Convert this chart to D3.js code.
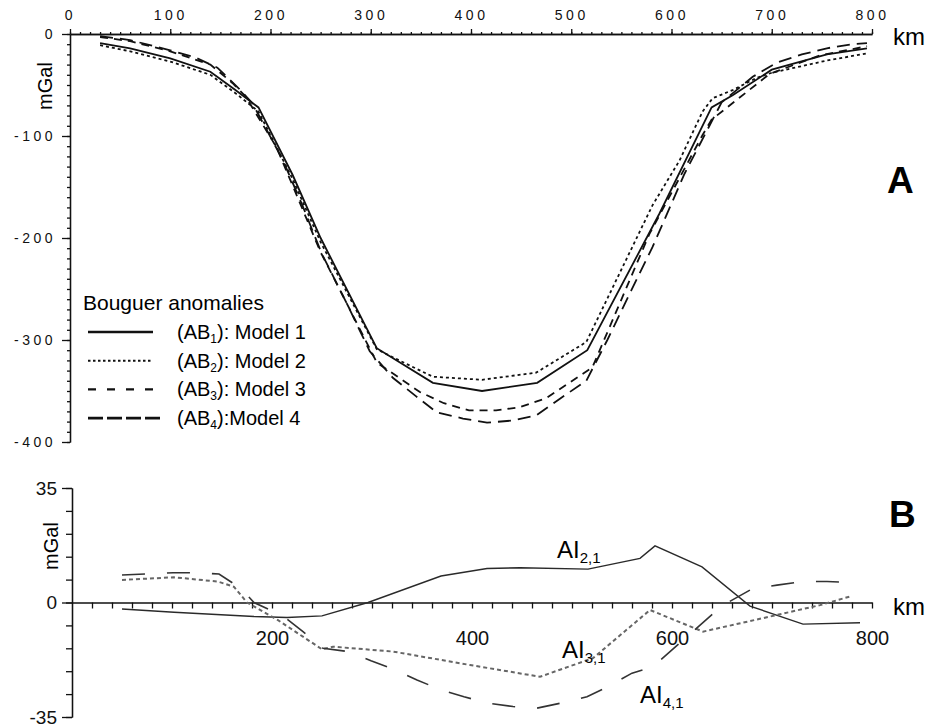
<!DOCTYPE html>
<html>
<head>
<meta charset="utf-8">
<style>
  body { margin: 0; background: #fff; }
  svg { display: block; font-family: "Liberation Sans", Arial, sans-serif; }
</style>
</head>
<body>
<script src="https://d3js.org/d3.v7.min.js"></script>
<script>
// tick labels
const kmTicksA = [0, 100, 200, 300, 400, 500, 600, 700, 800];
const mgalTicksA = [0, -100, -200, -300, -400];
const kmTicksB = [200, 400, 600, 800];
const mgalTicksB = [35, 0, -35];

// panel A: Bouguer anomalies [km, mGal]
const ab1 = [[30,-9],[60,-14],[100,-24],[140,-37],[165,-55],[188,-72],[222,-138],[250,-200],[306,-308],[362,-342],[411,-350],[466,-342],[516,-310],[588,-176],[640,-72],[661,-60],[700,-35],[755,-20],[795,-14]];
const ab2 = [[30,-11],[60,-17],[100,-27],[140,-40],[165,-58],[188,-76],[222,-142],[250,-204],[306,-309],[318,-315],[362,-336],[411,-339],[465,-332],[515,-302],[581,-168],[608,-124],[631,-76],[641,-63],[661,-55],[685,-43],[700,-38],[755,-26],[795,-19]];
const ab3 = [[30,-3],[60,-7],[100,-17],[140,-30],[162,-48],[175,-61],[206,-111],[250,-214],[261,-235],[306,-322],[349,-351],[373,-362],[398,-369],[425,-369],[448,-366],[475,-357],[495,-344],[521,-327],[578,-196],[631,-99],[640,-84],[698,-39],[748,-21],[795,-12]];
const ab4 = [[30,-2],[60,-6],[100,-16],[125,-23],[147,-33],[169,-54],[182,-68],[212,-123],[231,-166],[251,-215],[276,-264],[299,-311],[322,-337],[345,-355],[366,-371],[392,-377],[416,-381],[441,-379],[465,-374],[488,-358],[515,-340],[536,-300],[560,-251],[581,-209],[613,-137],[650,-67],[681,-42],[705,-28],[730,-20],[755,-14],[780,-10],[795,-9]];

// panel B: differences [km, mGal]
const ai21 = [[50,-2],[102,-3],[182,-4.3],[215,-4.6],[250,-4.1],[296,0],[369,8.1],[415,10.4],[448,10.6],[516,10.2],[568,13.5],[583,17.3],[630,10.9],[678,-1.1],[731,-6.6],[788,-6.2]];
const ai31 = [[50,6.9],[102,7.7],[146,6.4],[162,4.8],[175,0],[206,-5.4],[250,-14.3],[261,-13.5],[321,-15],[398,-19.1],[468,-22.7],[521,-17],[578,-2.3],[631,-8.9],[698,-4.3],[748,-0.8],[780,2]];
const ai41 = [[50,8.4],[101,9.1],[124,9.1],[147,8.7],[169,4.3],[182,0],[212,-4.3],[231,-8.9],[251,-14],[276,-15],[299,-17.8],[322,-20.4],[345,-23.7],[369,-26.7],[392,-28.8],[416,-30.8],[441,-31.8],[465,-32.3],[488,-30.8],[515,-28.8],[536,-25.7],[560,-21.6],[581,-19.6],[613,-11],[650,-1],[681,4.3],[705,5.3],[730,6.4],[755,6.4],[781,6.1]];

const legendRows = [
  { sub: '1', text: ': Model 1' },
  { sub: '2', text: ': Model 2' },
  { sub: '3', text: ': Model 3' },
  { sub: '4', text: ':Model 4' }
];

const W = 930, H = 728;
const svg = d3.select('body').append('svg')
  .attr('width', W).attr('height', H);

const x = d3.scaleLinear().domain([0, 800]).range([70, 872]);
const xB = d3.scaleLinear().domain([0, 800]).range([72, 872]);
const yA = d3.scaleLinear().domain([0, -400]).range([34, 442]);
const yB = d3.scaleLinear().domain([35, -35]).range([488, 717]);

const font = '"Liberation Sans", Arial, sans-serif';
const styleAxis = (g, size, spacing) => {
  g.selectAll('path, line').attr('stroke', '#111').attr('stroke-width', 1.3);
  g.selectAll('text')
    .style('font-family', font)
    .style('font-size', size + 'px')
    .style('letter-spacing', spacing + 'px')
    .attr('fill', '#111');
};

// ---- panel A axes
const gTop = svg.append('g').attr('transform', 'translate(0,34)');
gTop.call(d3.axisTop(x).tickValues(d3.range(0, 801, 10)).tickSize(2).tickSizeOuter(0).tickFormat(''));
gTop.append('g')
  .call(d3.axisTop(x).tickValues(kmTicksA).tickSize(5).tickSizeOuter(0).tickPadding(9).tickFormat(d => String(d)));
styleAxis(gTop, 14, 3.5);

const gLeft = svg.append('g').attr('transform', 'translate(70,0)');
gLeft.call(d3.axisLeft(yA).tickValues(d3.range(0, -401, -10)).tickSize(3).tickSizeOuter(0).tickFormat(''));
gLeft.append('g')
  .call(d3.axisLeft(yA).tickValues(mgalTicksA).tickSize(8).tickSizeOuter(0).tickPadding(6).tickFormat(d => String(d)));
styleAxis(gLeft, 14, 3.5);

svg.append('text')
  .attr('transform', 'translate(52,86) rotate(-90)')
  .attr('text-anchor', 'middle')
  .style('font-size', '20px')
  .text('mGal');

svg.append('text').attr('x', 893).attr('y', 45).style('font-size', '24px').text('km');
svg.append('text').attr('x', 887).attr('y', 193)
  .style('font-size', '37px').style('font-weight', 'bold').text('A');

// ---- panel A curves
const lineA = d3.line().x(d => x(d[0])).y(d => yA(d[1]));
const seriesA = [
  { data: ab1, dash: null, w: 1.8 },
  { data: ab2, dash: '3,3', w: 1.8 },
  { data: ab3, dash: '8,6', w: 1.8 },
  { data: ab4, dash: '13,7', w: 1.8 }
];
svg.append('g').selectAll('path')
  .data(seriesA)
  .join('path')
  .attr('d', d => lineA(d.data))
  .attr('fill', 'none')
  .attr('stroke', '#111')
  .attr('stroke-width', d => d.w)
  .attr('stroke-dasharray', d => d.dash);

// ---- legend
const legendDash = [
  { dash: null, w: 2.6, x2: 153 },
  { dash: '2.5,2.5', w: 2, x2: 153 },
  { dash: '8,11', w: 2.2, x2: 153 },
  { dash: '15,4', w: 2.8, x2: 160 }
];
const lg = svg.append('g');
lg.append('text').attr('x', 83).attr('y', 310).style('font-size', '21px').text('Bouguer anomalies');
legendRows.forEach((r, i) => {
  const yy = 332 + i * 28.7;
  lg.append('line')
    .attr('x1', 88).attr('x2', legendDash[i].x2)
    .attr('y1', yy).attr('y2', yy)
    .attr('stroke', '#111')
    .attr('stroke-width', legendDash[i].w)
    .attr('stroke-dasharray', legendDash[i].dash);
  const t = lg.append('text').attr('x', 177).attr('y', yy + 7).style('font-size', '20px');
  t.append('tspan').text('(AB');
  t.append('tspan').attr('dy', 4).style('font-size', '12px').text(r.sub);
  t.append('tspan').attr('dy', -4).text(')' + r.text);
});

// ---- panel B axes
const gB = svg.append('g').attr('transform', `translate(0,${yB(0)})`);
gB.call(d3.axisBottom(xB).tickValues(d3.range(20, 801, 20)).tickSize(6).tickSizeOuter(0).tickFormat(''));
gB.append('g')
  .call(d3.axisBottom(xB).tickValues(kmTicksB).tickSize(0).tickPadding(28).tickFormat(d => String(d)))
  .call(g => g.select('.domain').remove());
styleAxis(gB, 20, 0);

const gBL = svg.append('g').attr('transform', `translate(${xB(0)},0)`);
gBL.call(d3.axisLeft(yB).tickValues(d3.range(35, -36, -7)).tickSize(6).tickSizeOuter(0).tickFormat(''));
gBL.append('g')
  .call(d3.axisLeft(yB).tickValues(mgalTicksB).tickSize(10).tickSizeOuter(0).tickPadding(5).tickFormat(d => String(d)));
styleAxis(gBL, 19, 0);

svg.append('text')
  .attr('transform', 'translate(58,546) rotate(-90)')
  .attr('text-anchor', 'middle')
  .style('font-size', '20px')
  .text('mGal');

svg.append('text').attr('x', 893).attr('y', 615).style('font-size', '24px').text('km');
svg.append('text').attr('x', 889).attr('y', 527)
  .style('font-size', '37px').style('font-weight', 'bold').text('B');

// ---- panel B curves
const lineB = d3.line().x(d => xB(d[0])).y(d => yB(d[1]));
const seriesB = [
  { data: ai21, dash: null, w: 1.4, c: '#2a2a2a' },
  { data: ai31, dash: '4,3', w: 2, c: '#666' },
  { data: ai41, dash: '23,22', w: 1.6, c: '#333' }
];
svg.append('g').selectAll('path')
  .data(seriesB)
  .join('path')
  .attr('d', d => lineB(d.data))
  .attr('fill', 'none')
  .attr('stroke', d => d.c)
  .attr('stroke-width', d => d.w)
  .attr('stroke-dasharray', d => d.dash);

// curve labels
const aiLabels = [
  { x: 557, y: 558, sub: '2,1' },
  { x: 562, y: 658, sub: '3,1' },
  { x: 640, y: 703, sub: '4,1' }
];
aiLabels.forEach(l => {
  const t = svg.append('text').attr('x', l.x).attr('y', l.y).style('font-size', '24px');
  t.append('tspan').text('AI');
  t.append('tspan').attr('dy', 5).style('font-size', '15px').text(l.sub);
});
</script>
</body>
</html>
